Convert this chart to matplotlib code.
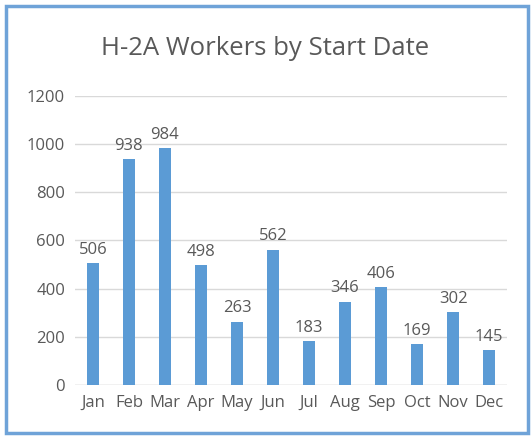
import matplotlib.pyplot as plt
from matplotlib.patches import Rectangle

months = ['Jan', 'Feb', 'Mar', 'Apr', 'May', 'Jun', 'Jul', 'Aug', 'Sep', 'Oct', 'Nov', 'Dec']
workers = [506, 938, 984, 498, 263, 562, 183, 346, 406, 169, 302, 145]
yticks = [0, 200, 400, 600, 800, 1000, 1200]

plt.rcParams['font.family'] = ['Open Sans', 'DejaVu Sans']
TXT = '#595959'

fig = plt.figure(figsize=(5.31, 4.38), dpi=100)
ax = fig.add_axes([0.141, 0.121, 0.814, 0.660])

x = range(len(months))
ax.bar(x, workers, width=0.34, color='#5B9BD5', zorder=3)
for xi, v in zip(x, workers):
    ax.text(xi, v + 22, str(v), ha='center', va='bottom', fontsize=12, color=TXT)

ax.set_ylim(0, 1200)
ax.set_xlim(-0.5, len(months) - 0.5)
ax.set_yticks(yticks)
ax.set_xticks(list(x))
ax.set_xticklabels(months)
ax.tick_params(length=0, labelsize=12, colors=TXT, pad=7)
ax.yaxis.grid(True, color='#d9d9d9', lw=1, zorder=0)
for sp in ax.spines.values():
    sp.set_visible(False)
ax.axhline(0, color='#d9d9d9', lw=1, zorder=1)

fig.text(0.5, 0.89, 'H-2A Workers by Start Date', ha='center', va='center',
         fontsize=18.5, color=TXT)

# blue frame round the chart
fig.patches.append(Rectangle((0.011, 0.012), 0.983, 0.975, transform=fig.transFigure,
                             fill=False, edgecolor='#6FA3D8', lw=2.5))

fig.savefig('out.png', dpi=100)
